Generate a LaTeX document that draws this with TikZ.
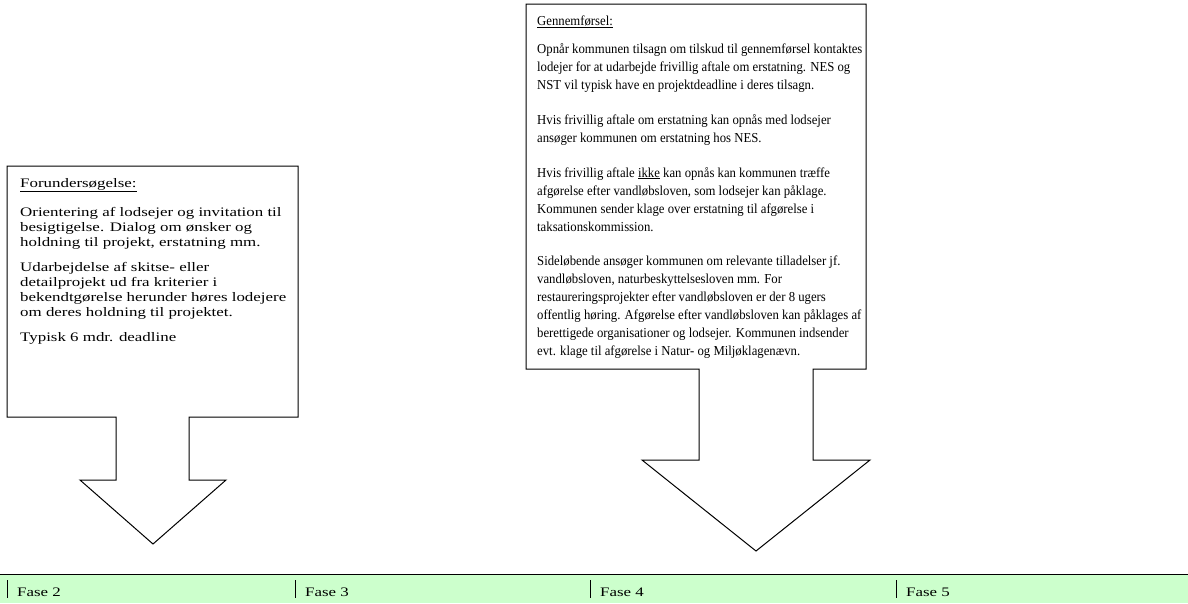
\documentclass[tikz,border=0pt]{standalone}
\usepackage{fontspec}
\setmainfont{Liberation Serif}[FakeStretch=1.3]
\newfontfamily\rightfont{Liberation Serif}[FakeStretch=0.93]
\definecolor{bandgreen}{HTML}{CCFFCC}
\tikzset{
  txt/.style={anchor=base west, inner sep=0pt, font=\fontsize{13}{15.5}\selectfont},
  rtxt/.style={anchor=base west, inner sep=0pt, font=\rightfont\fontsize{13.7}{18}\selectfont},
  callout/.style={draw=black, line width=1pt, fill=white, line join=miter},
  divider/.style={draw=black, line width=0.7pt},
}
\begin{document}
\begin{tikzpicture}[x=1pt,y=-1pt]
\useasboundingbox (0,0) rectangle (1188,603);
% left callout
\draw[callout] (7,166) -- (298,166) -- (298,417) -- (189,417) -- (189,480) -- (226,480)
  -- (153,544) -- (80,480) -- (116,480) -- (116,417) -- (7,417) -- cycle;
% right callout
\draw[callout] (526,4) -- (866,4) -- (866,369) -- (813,369) -- (813,460) -- (870,460)
  -- (756,551) -- (642,460) -- (699,460) -- (699,369) -- (526,369) -- cycle;
% left text
\node[txt] (l1) at (20,187) {\underline{Forundersøgelse:}};
\node[txt] (l2) at (20,216) {Orientering af lodsejer og invitation til};
\node[txt] (l3) at (20,231) {besigtigelse. Dialog om ønsker og};
\node[txt] (l4) at (20,246) {holdning til projekt, erstatning mm.};
\node[txt] (l5) at (20,271) {Udarbejdelse af skitse- eller};
\node[txt] (l6) at (20,286) {detailprojekt ud fra kriterier i};
\node[txt] (l7) at (20,301) {bekendtgørelse herunder høres lodejere};
\node[txt] (l8) at (20,316) {om deres holdning til projektet.};
\node[txt] (l9) at (20,341) {Typisk 6 mdr. deadline};
% right text
\node[rtxt] (r1) at (537,25) {\underline{Gennemførsel:}};
\node[rtxt] (r2) at (537,53) {Opnår kommunen tilsagn om tilskud til gennemførsel kontaktes};
\node[rtxt] (r3) at (537,71) {lodejer for at udarbejde frivillig aftale om erstatning. NES og};
\node[rtxt] (r4) at (537,89) {NST vil typisk have en projektdeadline i deres tilsagn.};
\node[rtxt] (r5) at (537,124) {Hvis frivillig aftale om erstatning kan opnås med lodsejer};
\node[rtxt] (r6) at (537,142) {ansøger kommunen om erstatning hos NES.};
\node[rtxt] (r7) at (537,177) {Hvis frivillig aftale \underline{ikke} kan opnås kan kommunen træffe};
\node[rtxt] (r8) at (537,195) {afgørelse efter vandløbsloven, som lodsejer kan påklage.};
\node[rtxt] (r9) at (537,213) {Kommunen sender klage over erstatning til afgørelse i};
\node[rtxt] (r10) at (537,231) {taksationskommission.};
\node[rtxt] (r11) at (537,265) {Sideløbende ansøger kommunen om relevante tilladelser jf.};
\node[rtxt] (r12) at (537,283) {vandløbsloven, naturbeskyttelsesloven mm. For};
\node[rtxt] (r13) at (537,301) {restaureringsprojekter efter vandløbsloven er der 8 ugers};
\node[rtxt] (r14) at (537,319) {offentlig høring. Afgørelse efter vandløbsloven kan påklages af};
\node[rtxt] (r15) at (537,337) {berettigede organisationer og lodsejer. Kommunen indsender};
\node[rtxt] (r16) at (537,355) {evt. klage til afgørelse i Natur- og Miljøklagenævn.};
% phase band
\fill[bandgreen] (0,574) rectangle (1188,603);
\draw[line width=1pt] (0,574) -- (1188,574);
\draw[divider] (7.5,580) -- (7.5,598);
\draw[divider] (295.5,580) -- (295.5,598);
\draw[divider] (590,580) -- (590,598);
\draw[divider] (896.5,580) -- (896.5,598);
\node[txt] (f2) at (17,596) {Fase 2};
\node[txt] (f3) at (305,596) {Fase 3};
\node[txt] (f4) at (600,596) {Fase 4};
\node[txt] (f5) at (906,596) {Fase 5};
\end{tikzpicture}
\end{document}
